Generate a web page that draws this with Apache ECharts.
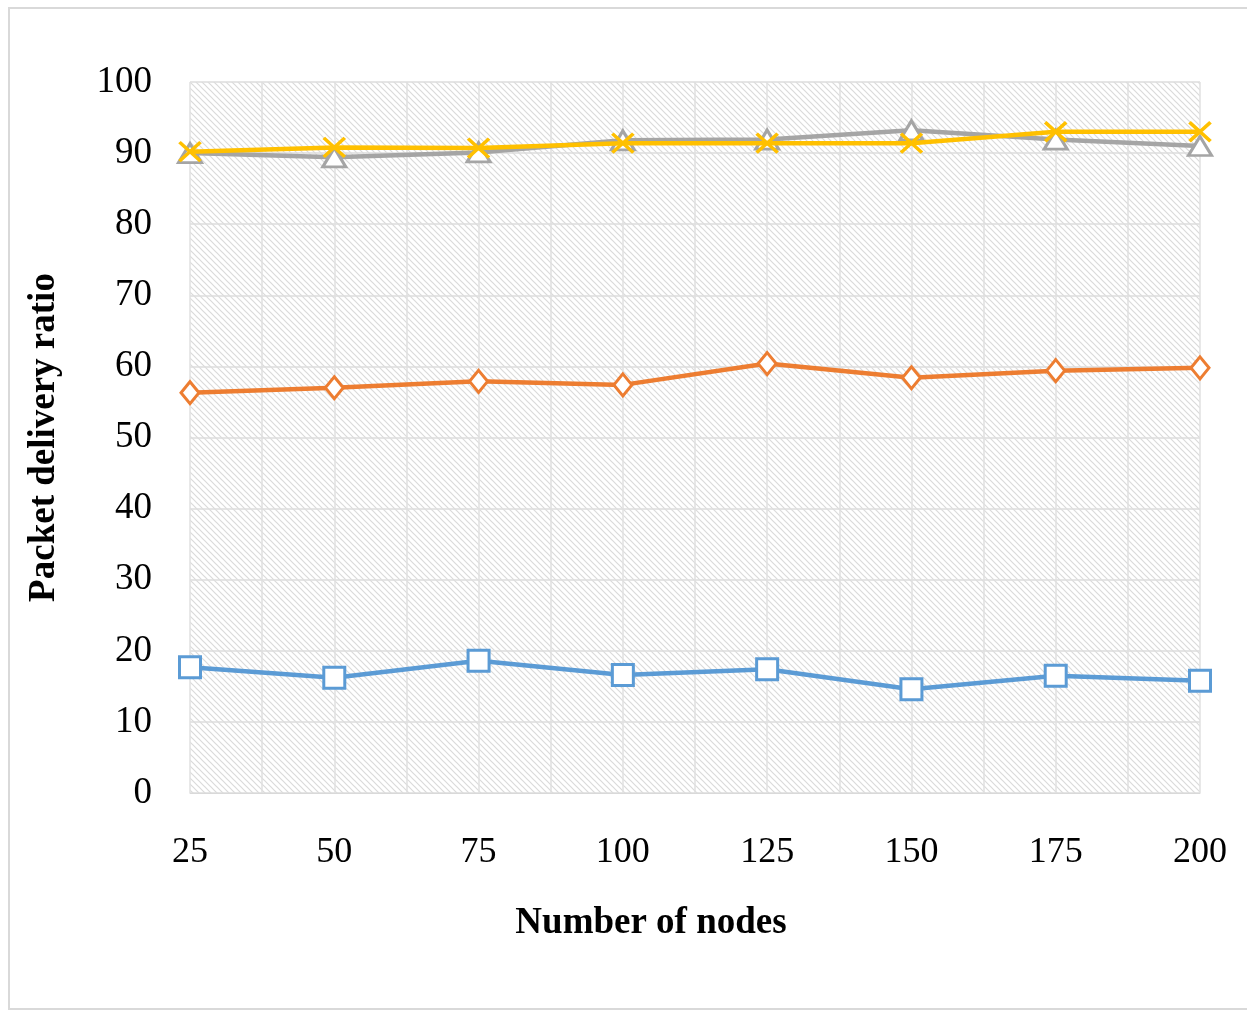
<!DOCTYPE html>
<html>
<head>
<meta charset="utf-8">
<title>Packet delivery ratio vs number of nodes</title>
<script src="https://cdn.jsdelivr.net/npm/echarts@6/dist/echarts.min.js"></script>
<style>
  html, body { margin: 0; padding: 0; background: #ffffff; }
  #chart { width: 1247px; height: 1011px; }
</style>
</head>
<body>
<div id="chart"></div>
<script>
// Number of nodes on the x axis
const nodes = [25, 50, 75, 100, 125, 150, 175, 200];

// Packet delivery ratio (%) for each scheme
const seriesBlue   = [17.7, 16.2, 18.6, 16.6, 17.4, 14.6, 16.5, 15.8];
const seriesOrange = [56.3, 57.0, 57.9, 57.4, 60.4, 58.4, 59.4, 59.8];
const seriesGray   = [90.0, 89.4, 90.1, 91.8, 91.9, 93.2, 91.9, 91.0];
const seriesYellow = [90.2, 90.8, 90.7, 91.4, 91.4, 91.4, 93.0, 93.0];

const yTicks = [0, 10, 20, 30, 40, 50, 60, 70, 80, 90, 100];

const FONT = '"Liberation Serif", "DejaVu Serif", serif';

// Diagonal hatch used as the plot-area fill
function makeHatch() {
  const s = 6;
  const c = document.createElement('canvas');
  c.width = s; c.height = s;
  const g = c.getContext('2d');
  g.fillStyle = '#ffffff';
  g.fillRect(0, 0, s, s);
  g.strokeStyle = '#dadada';
  g.lineWidth = 1.2;
  g.beginPath();
  g.moveTo(-1, -1); g.lineTo(s + 1, s + 1);
  g.moveTo(-1, s - 1); g.lineTo(1, s + 1);
  g.moveTo(s - 1, -1); g.lineTo(s + 1, 1);
  g.stroke();
  return c;
}

const pairs = vals => nodes.map((n, i) => [n, vals[i]]);

const chart = echarts.init(document.getElementById('chart'), null, { renderer: 'canvas' });

const lineSeries = (name, vals, color, symbol, size, z) => ({
  name: name,
  type: 'line',
  data: pairs(vals),
  z: z,
  symbol: symbol,
  symbolSize: size,
  showAllSymbol: true,
  lineStyle: { color: color, width: 4.5 },
  itemStyle: { color: '#ffffff', borderColor: color, borderWidth: 3 },
  emphasis: { disabled: true },
  animation: false
});

chart.setOption({
  backgroundColor: '#ffffff',
  animation: false,
  graphic: [{
    type: 'rect',
    shape: { x: 9, y: 8, width: 1260, height: 1001 },
    style: { fill: 'none', stroke: '#d9d9d9', lineWidth: 2 },
    silent: true
  }],
  grid: {
    left: 190, right: 47, top: 82, bottom: 218,
    show: true,
    borderWidth: 0,
    backgroundColor: { image: makeHatch(), repeat: 'repeat' }
  },
  xAxis: {
    type: 'value',
    min: 25, max: 200, interval: 25,
    name: 'Number of nodes',
    nameLocation: 'middle',
    nameGap: 112,
    nameTextStyle: {
      fontFamily: FONT, fontSize: 37, fontWeight: 'bold', color: '#000000',
      padding: [0, 88, 0, 0]
    },
    axisLine: { show: true, lineStyle: { color: '#d9d9d9', width: 1 } },
    axisTick: { show: false },
    axisLabel: {
      fontFamily: FONT, fontSize: 36, color: '#000000', margin: 42
    },
    splitLine: { show: true, lineStyle: { color: '#e0e0e0', width: 1.5 } },
    minorTick: { show: false, splitNumber: 2 },
    minorSplitLine: { show: true, lineStyle: { color: '#e0e0e0', width: 1.5 } }
  },
  yAxis: {
    type: 'value',
    min: yTicks[0], max: yTicks[yTicks.length - 1], interval: 10,
    name: 'Packet delivery ratio',
    nameLocation: 'middle',
    nameGap: 127,
    nameTextStyle: {
      fontFamily: FONT, fontSize: 37, fontWeight: 'bold', color: '#000000'
    },
    axisLine: { show: false },
    axisTick: { show: false },
    axisLabel: {
      fontFamily: FONT, fontSize: 37, color: '#000000', margin: 38
    },
    splitLine: { show: true, lineStyle: { color: '#dcdcdc', width: 1.5 } }
  },
  series: [
    lineSeries('Scheme 1', seriesBlue,   '#5B9BD5', 'rect',     [21, 21], 3),
    lineSeries('Scheme 2', seriesOrange, '#ED7D31', 'diamond',  [18, 22], 3),
    lineSeries('Scheme 3', seriesGray,   '#A5A5A5', 'triangle', [23, 19], 3),
    Object.assign(
      lineSeries('Scheme 4', seriesYellow, '#FFC000',
        'path://M0,0 L10,10 M10,0 L0,10', [21, 19], 4),
      { itemStyle: { color: 'none', borderColor: '#FFC000', borderWidth: 3.5 } }
    )
  ]
});
</script>
</body>
</html>
